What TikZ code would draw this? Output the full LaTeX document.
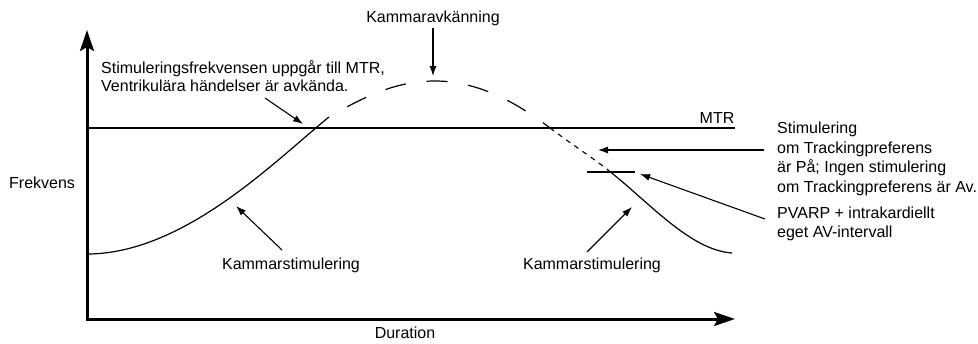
\documentclass[tikz,border=0pt]{standalone}
\usepackage{fontspec}
\setmainfont{Liberation Sans}
\usetikzlibrary{arrows.meta}

\begin{document}
\begin{tikzpicture}[x=1pt,y=-1pt,
    lbl/.style={inner sep=0pt, font=\fontsize{16}{19.7}\selectfont, align=left},
    pointer/.style={-{Latex[length=10pt,width=7pt]}, line width=1.1pt},
    axis/.style={line width=3pt, line join=miter, {Stealth[length=21pt,width=14pt,inset=4pt]}-{Stealth[length=21pt,width=14pt,inset=4pt]}}]
    \useasboundingbox (0,0) rectangle (978,343);

    %axis
    \coordinate (ytip) at (87,30);
    \coordinate (orig) at (87,319);
    \coordinate (xtip) at (735,319);
    \draw[axis] (ytip) -- (orig) -- (xtip);
    \node[lbl, anchor=west] (freq) at (9,183) {Frekvens};
    \node[lbl] (dur) at (405,333) {Duration};

    %MTR
    \coordinate (mtrA) at (87,128);
    \coordinate (mtrB) at (735,128);
    \draw[line width=1.8pt] (mtrA) -- (mtrB);
    \node[lbl] (mtr) at (717,118) {MTR};

    %curve (solid, dashed, solid)
    \draw[line width=1.2pt] (87,254) .. controls (185,254) and (278,158) .. (329,117);
    \draw[line width=1.2pt, dash pattern=on 21pt off 21pt, dash phase=21pt]
        (329,117) .. controls (370,93) and (400,81) .. (435,81)
        .. controls (480,81) and (520,105) .. (550,128);
    \draw[line width=1.1pt, dash pattern=on 5pt off 5pt]
        (550,128) .. controls (570,143) and (590,156) .. (608,170);
    \draw[line width=1.2pt] (608,170) .. controls (650,203) and (690,250) .. (732,253);

    %PVARP mark
    \coordinate (pvA) at (587,172);
    \coordinate (pvB) at (635,172);
    \draw[line width=1.2pt] (pvA) -- (pvB);

    %labels
    \node[lbl] (sense) at (433,18) {Kammaravkänning};
    \node[lbl, anchor=west, font=\fontsize{16}{18.5}\selectfont] (rise) at (101,76)
        {Stimuleringsfrekvensen uppgår till MTR,\\Ventrikulära händelser är avkända.};
    \node[lbl] (stimL) at (291,265) {Kammarstimulering};
    \node[lbl] (stimR) at (592,265) {Kammarstimulering};
    \node[lbl, anchor=west] (track) at (777,159)
        {Stimulering\\om Trackingpreferens\\är På; Ingen stimulering\\om Trackingpreferens är Av.};
    \node[lbl, anchor=west] (pvarp) at (777,224) {PVARP + intrakardiellt\\eget AV-intervall};

    %pointers
    \coordinate (senseT) at (433,28);
    \coordinate (senseH) at (433,76);
    \coordinate (riseT) at (265,98);
    \coordinate (riseH) at (303,124);
    \coordinate (stimLT) at (282,250);
    \coordinate (stimLH) at (236,206);
    \coordinate (stimRT) at (587,252);
    \coordinate (stimRH) at (632,207);
    \coordinate (trackT) at (764,150);
    \coordinate (trackH) at (598,150);
    \coordinate (pvarpT) at (765,219);
    \coordinate (pvarpH) at (640,174);
    \draw[pointer] (senseT) -- (senseH);
    \draw[pointer] (riseT) -- (riseH);
    \draw[pointer] (stimLT) -- (stimLH);
    \draw[pointer] (stimRT) -- (stimRH);
    \draw[pointer] (trackT) -- (trackH);
    \draw[pointer] (pvarpT) -- (pvarpH);
\end{tikzpicture}
\end{document}
